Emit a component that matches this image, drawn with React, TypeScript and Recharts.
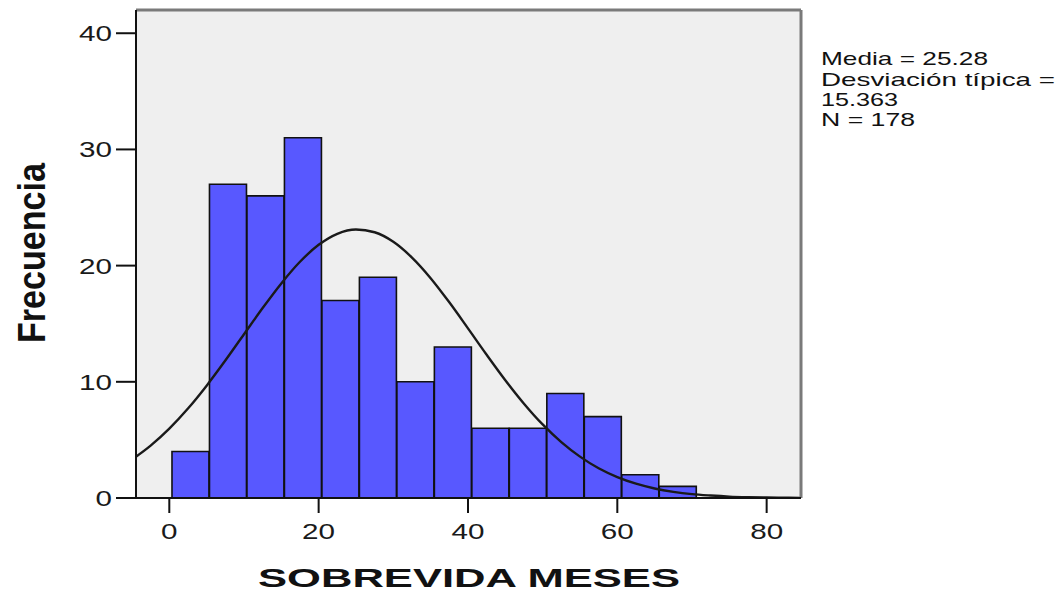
import React from "react";
import {
  ComposedChart,
  Bar,
  Line,
  XAxis,
  YAxis,
  CartesianGrid,
  ReferenceLine,
  Customized,
} from "recharts";

const FONT = "'Liberation Sans', Arial, sans-serif";

// histogram bins (centre of each bin) and frequencies
const binCenters = [
  2.87, 7.89, 12.91, 17.93, 22.95, 27.97, 32.99, 38.01, 43.03, 48.05, 53.07,
  58.09, 63.11, 68.13,
];
const counts = [4, 27, 26, 31, 17, 19, 10, 13, 6, 6, 9, 7, 2, 1];

// normal curve drawn over the bars
const curveX = [
  -5, -2.5, 0, 2.5, 5, 7.5, 10, 12.5, 15, 17.5, 20, 22.5, 25, 27.5, 30, 32.5,
  35, 37.5, 40, 42.5, 45, 47.5, 50, 52.5, 55, 57.5, 60, 62.5, 65, 67.5, 70,
  72.5, 75, 77.5, 80, 82.5, 85,
];
const curveY = [
  3.31, 4.51, 5.97, 7.7, 9.67, 11.83, 14.09, 16.35, 18.47, 20.33, 21.79, 22.74,
  23.11, 22.87, 22.05, 20.69, 18.92, 16.84, 14.6, 12.33, 10.14, 8.12, 6.33,
  4.81, 3.56, 2.56, 1.8, 1.23, 0.82, 0.53, 0.33, 0.21, 0.12, 0.07, 0.04, 0.02,
  0.01,
];

const xTicks = [0, 20, 40, 60, 80];
const yTicks = [0, 10, 20, 30, 40];
const xDomain: [number, number] = [-4.46, 84.6];
const yDomain: [number, number] = [0, 42];

const statLines = ["Media = 25.28", "Desviación típica =", "15.363", "N = 178"];
const statBaselines = [65, 86, 106, 126];
const statWidths = [167, 234, 77, 94];

const bins = binCenters.map((c, i) => ({ center: c, count: counts[i] }));
const curve = curveX.map((x, i) => ({ x, y: curveY[i] }));

function XTick(props: any) {
  const { x, y, payload } = props;
  const s = String(payload?.value ?? "");
  return (
    <text
      x={x}
      y={y}
      dy={24}
      textAnchor="middle"
      fontSize={22}
      fontFamily={FONT}
      fill="#1a1a1a"
      textLength={s.length * 16.5}
      lengthAdjust="spacingAndGlyphs"
    >
      {s}
    </text>
  );
}

function YTick(props: any) {
  const { x, y, payload } = props;
  const s = String(payload?.value ?? "");
  return (
    <text
      x={x - 2}
      y={y}
      dy={8}
      textAnchor="end"
      fontSize={22}
      fontFamily={FONT}
      fill="#1a1a1a"
      textLength={s.length * 16.5}
      lengthAdjust="spacingAndGlyphs"
    >
      {s}
    </text>
  );
}

function Notes() {
  return (
    <g fontFamily={FONT} fill="#111">
      <text
        transform="translate(45,253) rotate(-90)"
        textAnchor="middle"
        fontSize={39}
        fontWeight="bold"
        textLength={180}
        lengthAdjust="spacingAndGlyphs"
      >
        Frecuencia
      </text>
      <text
        x={469}
        y={587}
        textAnchor="middle"
        fontSize={26}
        fontWeight="bold"
        textLength={422}
        lengthAdjust="spacingAndGlyphs"
      >
        SOBREVIDA MESES
      </text>
      {statLines.map((s, i) => (
        <text
          key={s}
          x={821}
          y={statBaselines[i]}
          fontSize={19}
          textLength={statWidths[i]}
          lengthAdjust="spacingAndGlyphs"
        >
          {s}
        </text>
      ))}
    </g>
  );
}

export default function App() {
  return (
    <div style={{ position: "absolute", left: 0, top: 0, background: "#fff" }}>
      <ComposedChart
        width={1061}
        height={602}
        data={bins}
        margin={{ top: 10, right: 260, bottom: 0, left: 0 }}
        barCategoryGap={0}
        barGap={0}
      >
        <CartesianGrid horizontal={false} vertical={false} fill="#efefef" />
        <XAxis
          dataKey="center"
          type="number"
          domain={xDomain}
          allowDataOverflow
          ticks={xTicks}
          tickSize={15}
          height={104}
          tick={<XTick />}
          axisLine={{ stroke: "#111", strokeWidth: 2 }}
          tickLine={{ stroke: "#111", strokeWidth: 2 }}
        />
        <XAxis
          xAxisId="curve"
          dataKey="x"
          type="number"
          domain={xDomain}
          allowDataOverflow
          hide
        />
        <YAxis
          type="number"
          domain={yDomain}
          allowDataOverflow
          ticks={yTicks}
          tickSize={20}
          width={136}
          tick={<YTick />}
          axisLine={{ stroke: "#111", strokeWidth: 2 }}
          tickLine={{ stroke: "#111", strokeWidth: 2 }}
        />
        <Bar
          dataKey="count"
          fill="#5858ff"
          stroke="#111"
          strokeWidth={1.6}
          isAnimationActive={false}
        />
        <Line
          xAxisId="curve"
          data={curve}
          dataKey="y"
          type="monotone"
          stroke="#1a1a1a"
          strokeWidth={2.4}
          dot={false}
          activeDot={false}
          isAnimationActive={false}
        />
        <ReferenceLine
          y={yDomain[1]}
          stroke="#7a7a7a"
          strokeWidth={3}
          ifOverflow="visible"
        />
        <ReferenceLine
          x={xDomain[1]}
          stroke="#7a7a7a"
          strokeWidth={3}
          ifOverflow="visible"
        />
        <Customized component={<Notes />} />
      </ComposedChart>
    </div>
  );
}
